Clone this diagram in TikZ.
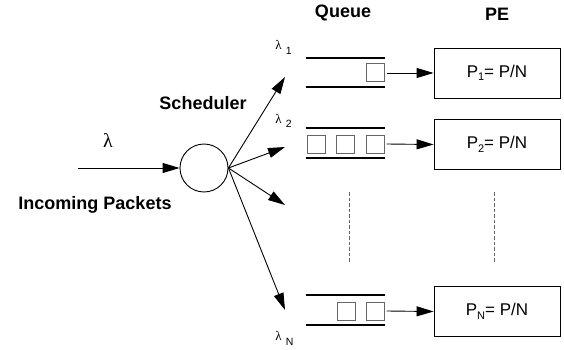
\documentclass[tikz,border=0pt]{standalone}
\usepackage{fontspec}
\setmainfont{Liberation Sans}
\newfontfamily\seriffam{Liberation Serif}
\usetikzlibrary{arrows.meta}
\newcommand\lamlab[1]{{\fontsize{13}{14}\seriffam λ}\hspace{4pt}\raisebox{-5pt}{\fontsize{10.5}{12}\selectfont #1}}
\newcommand\psub[1]{P\raisebox{-3.5pt}{\fontsize{11}{12}\selectfont #1}= P/N}
\begin{document}
\begin{tikzpicture}[x=1pt,y=-1pt,line width=0.9pt,
  hdr/.style={font=\fontsize{18}{20}\selectfont\bfseries, inner sep=0},
  pebox/.style={draw, minimum width=126pt, minimum height=50pt, inner sep=0, font=\fontsize{17}{19}\selectfont},
  pkt/.style={draw=black!60, line width=1pt, minimum size=18pt, inner sep=0},
  qbox/.style={minimum width=79pt, inner sep=0},
  qline/.style={line width=2pt},
  arr/.style={-{Triangle[length=17pt,width=10pt]}},
  lamlabel/.style={anchor=base west, inner sep=0},
  dots/.style={black!60, line width=0.9pt, dash pattern=on 3.5pt off 2pt}]
\useasboundingbox (0,0) rectangle (564,350);
% scheduler
\node[circle, draw, minimum size=48pt, inner sep=0] (sch) at (204,168) {};
\coordinate (in) at (78,168);
\draw[arr] (in) -- (sch);
\node[inner sep=0] (lam) at (108,140) {\fontsize{20}{21}\seriffam λ};
\node[hdr] (schl) at (203,103) {Scheduler};
\node[hdr] (inc) at (95,205) {Incoming Packets};
% headers
\node[hdr] (hq) at (343,13) {Queue};
\node[hdr] (hpe) at (497,14) {PE};
% scheduler outputs
\coordinate (t1) at (285,77);
\coordinate (t2) at (285,147);
\coordinate (t3) at (285,205);
\coordinate (t4) at (285,310);
\draw[arr] (sch.east) -- (t1);
\draw[arr] (sch.east) -- (t2);
\draw[arr] (sch.east) -- (t3);
\draw[arr] (sch.east) -- (t4);
\node[lamlabel] (l1) at (275,50) {\lamlab{1}};
\node[lamlabel] (l2) at (275,123) {\lamlab{2}};
\node[lamlabel] (lN) at (275,340) {\lamlab{N}};
% queues
\node[qbox, minimum height=29pt] (q1) at (345.5,72.5) {};
\node[qbox, minimum height=30pt] (q2) at (345.5,143) {};
\node[qbox, minimum height=30pt] (qN) at (345.5,310) {};
\foreach \q in {q1,q2,qN}{
  \draw[qline] (\q.north west) -- (\q.north east);
  \draw[qline] (\q.south west) -- (\q.south east);
}
\node[pkt] (p11) at (375,73) {};
\node[pkt] (p21) at (316,144) {};
\node[pkt] (p22) at (345.5,144) {};
\node[pkt] (p23) at (375,144) {};
\node[pkt] (pN1) at (346,311) {};
\node[pkt] (pN2) at (375,311) {};
% PEs
\node[pebox] (pe1) at (497,73) {\psub{1}};
\node[pebox] (pe2) at (497,144.5) {\psub{2}};
\node[pebox] (peN) at (497,311.5) {\psub{N}};
\draw[arr] (p11.east) ++(2,0) -- (pe1.west);
\draw[arr] (p23.east) ++(2,0) -- (pe2.west);
\draw[arr] (pN2.east) ++(2,0) -- (peN.west);
% dots
\coordinate (d1a) at (349,192);
\coordinate (d1b) at (349,263);
\coordinate (d2a) at (494,192);
\coordinate (d2b) at (494,263);
\draw[dots] (d1a) -- (d1b);
\draw[dots] (d2a) -- (d2b);
\end{tikzpicture}
\end{document}
